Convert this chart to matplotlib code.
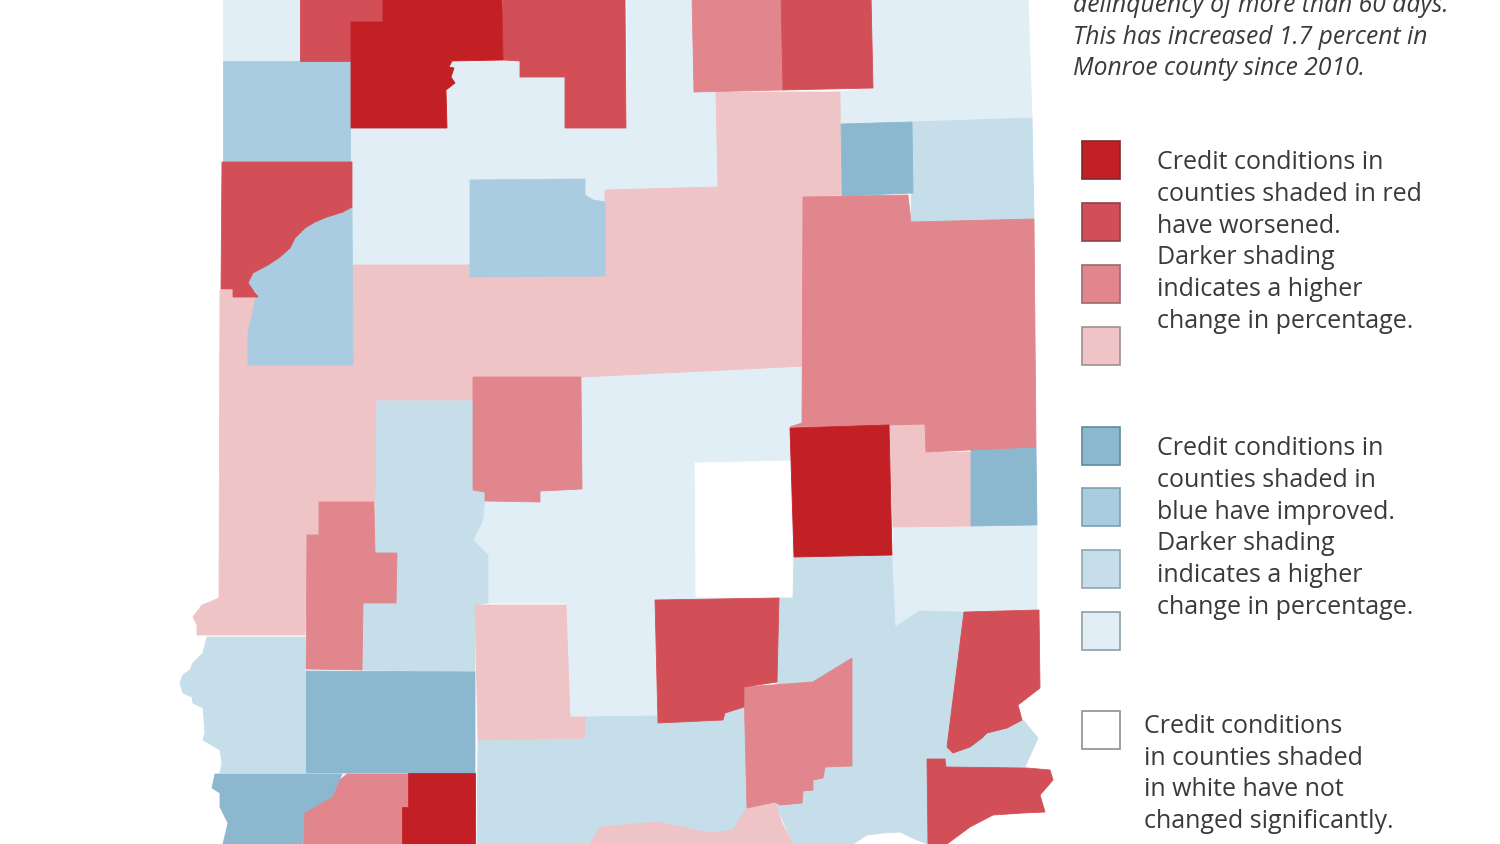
import matplotlib
matplotlib.use("Agg")
from matplotlib import pyplot as plt
from matplotlib.patches import Rectangle

plt.rcParams['font.family'] = ['Open Sans', 'DejaVu Sans']

# shades, darkest to lightest
c_Red = ['#c32026', '#d34f57', '#e0868c', '#efc4c7']
c_Blue = ['#8cb8cf', '#a9cce0', '#c5deea', '#e1eef6']
c_White = '#ffffff'
# legend box edges are a dirty version of the fill
c_RedEdge = ['#7f2a2d', '#8c4449', '#9c6a6e', '#a08f90']
c_BlueEdge = ['#5f8ba0', '#7f9fb0', '#8fa6b0', '#8d9fa8']

# county outlines, in image pixels
pale_blue = [
    [(223, -5), (300, -5), (300, 61), (223, 61)],
    [(350, 128), (447, 128), (447, 95), (452, 62), (520, 61), (520, 77), (565, 77), (565, 128), (627, 128),
     (627, -5), (692, -5), (694, 92), (716, 92), (718, 187), (605, 190), (605, 278), (352, 265)],
    [(868, -5), (1028, -5), (1032, 118), (912, 122), (841, 124), (840, 92), (873, 88)],
    [(582, 377), (720, 368), (805, 366), (802, 423), (790, 427), (793, 598), (778, 598), (655, 600), (657, 717),
     (570, 717), (566, 640), (566, 603), (488, 603), (488, 555), (473, 540), (484, 520), (484, 502), (540, 502),
     (540, 490), (582, 490)],
    [(893, 527), (1037, 526), (1037, 610), (920, 611), (895, 627)],
]
light_blue = [
    [(912, 122), (1032, 118), (1034, 219), (911, 222)],
    [(376, 400), (473, 400), (473, 490), (485, 492), (483, 520), (473, 540), (488, 555), (488, 603), (475, 605),
     (475, 672), (362, 670), (363, 603), (396, 603), (397, 553), (375, 553)],
    [(305, 637), (305, 773), (220, 773), (222, 763), (220, 750), (203, 740), (205, 733), (203, 708), (193, 703),
     (192, 697), (183, 693), (180, 683), (183, 675), (190, 670), (193, 663), (203, 653), (207, 637)],
    [(478, 740), (585, 738), (585, 717), (657, 716), (658, 723), (723, 720), (725, 713), (744, 707), (747, 808),
     (733, 830), (710, 833), (658, 822), (600, 827), (590, 844), (477, 844)],
    [(793, 598), (794, 557), (892, 555), (895, 627), (920, 611), (964, 612), (947, 747), (953, 753), (970, 747),
     (987, 733), (1023, 720), (1038, 738), (1025, 767), (946, 767), (945, 759), (927, 759), (928, 844), (917, 840),
     (900, 832), (883, 833), (867, 835), (853, 844), (793, 844), (775, 802), (777, 682), (779, 598)],
]
mid_blue = [
    [(223, 61), (350, 61), (350, 162), (223, 162)],
    [(352, 207), (353, 365), (248, 365), (248, 333), (257, 293), (248, 283), (253, 273), (268, 265), (280, 257),
     (290, 248), (295, 238), (305, 228), (315, 222), (327, 217), (343, 212)],
    [(470, 180), (585, 179), (585, 195), (593, 200), (605, 202), (605, 276), (470, 277)],
]
dark_blue = [
    [(841, 124), (912, 122), (913, 193), (842, 196)],
    [(971, 447), (1036, 447), (1037, 525), (971, 526)],
    [(306, 671), (475, 672), (475, 773), (306, 773)],
    [(215, 774), (342, 774), (333, 797), (305, 813), (302, 844), (223, 844), (228, 823), (220, 807), (220, 793),
     (212, 788)],
]
pale_red = [
    [(353, 265), (605, 265), (605, 190), (718, 187), (716, 92), (840, 92), (841, 195), (803, 197), (806, 366),
     (582, 377), (473, 377), (473, 400), (376, 400), (375, 502), (319, 502), (319, 535), (307, 535), (305, 635),
     (197, 635), (197, 625), (193, 617), (202, 605), (210, 602), (219, 598), (220, 290), (233, 290), (233, 297),
     (258, 297), (248, 333), (248, 365), (353, 365)],
    [(889, 425), (925, 424), (926, 452), (971, 452), (971, 526), (893, 527)],
    [(475, 605), (566, 605), (570, 717), (585, 717), (585, 738), (478, 740)],
    [(590, 844), (600, 827), (658, 822), (710, 833), (733, 830), (747, 808), (775, 802), (782, 823), (793, 844)],
]
mid_red = [
    [(692, -5), (781, -5), (783, 90), (694, 92)],
    [(803, 197), (908, 195), (911, 222), (1034, 219), (1036, 447), (926, 452), (925, 424), (889, 425), (790, 427),
     (802, 423)],
    [(473, 377), (581, 377), (582, 489), (540, 491), (540, 502), (485, 501), (485, 492), (473, 490)],
    [(319, 502), (374, 502), (375, 553), (397, 553), (396, 603), (363, 603), (362, 670), (306, 669), (307, 535),
     (319, 535)],
    [(744, 687), (813, 682), (852, 658), (852, 766), (825, 767), (823, 778), (813, 780), (813, 790), (803, 791),
     (802, 803), (780, 805), (775, 802), (747, 808)],
    [(347, 774), (408, 774), (408, 807), (402, 807), (402, 844), (303, 844), (305, 813), (333, 797), (340, 780)],
]
strong_red = [
    [(300, -5), (383, -5), (383, 22), (351, 22), (351, 61), (300, 61)],
    [(503, -5), (625, -5), (626, 128), (565, 128), (565, 77), (520, 77), (520, 61), (503, 60)],
    [(781, -5), (871, -5), (873, 88), (783, 90)],
    [(222, 162), (352, 162), (352, 207), (343, 212), (327, 217), (315, 222), (305, 228), (295, 238), (290, 248),
     (280, 257), (268, 265), (253, 273), (248, 283), (258, 297), (233, 297), (233, 289), (221, 289)],
    [(655, 600), (779, 598), (777, 682), (744, 687), (744, 707), (725, 713), (723, 720), (658, 723)],
    [(964, 612), (1039, 610), (1040, 688), (1018, 705), (1022, 720), (1007, 728), (987, 733), (982, 738), (970, 747),
     (953, 753), (947, 747)],
    [(927, 759), (945, 759), (946, 767), (1027, 768), (1050, 770), (1053, 780), (1040, 795), (1045, 812), (1023, 813),
     (993, 815), (970, 827), (947, 844), (928, 844)],
]
dark_red = [
    [(383, -5), (502, -5), (503, 60), (452, 61), (449, 67), (454, 68), (451, 77), (455, 83), (446, 90), (447, 128),
     (351, 128), (351, 22), (383, 22)],
    [(790, 428), (889, 425), (892, 555), (794, 557)],
    [(408, 773), (475, 773), (475, 844), (402, 844), (402, 807), (408, 807)],
]
white_counties = [
    [(695, 463), (790, 461), (793, 598), (696, 597)],
]

intro_lines = [
    'delinquency of more than 60 days.',
    'This has increased 1.7 percent in',
    'Monroe county since 2010.',
]
red_lines = [
    'Credit conditions in',
    'counties shaded in red',
    'have worsened.',
    'Darker shading',
    'indicates a higher',
    'change in percentage.',
]
blue_lines = [
    'Credit conditions in',
    'counties shaded in',
    'blue have improved.',
    'Darker shading',
    'indicates a higher',
    'change in percentage.',
]
white_lines = [
    'Credit conditions',
    'in counties shaded',
    'in white have not',
    'changed significantly.',
]

fig = plt.figure(figsize=(15, 8.44), dpi=100)
ax = fig.add_axes([0, 0, 1, 1])
ax.set_xlim(0, 1500)
ax.set_ylim(844, 0)
ax.axis('off')

# order matters, later shades sit on top of the earlier ones
t_Layers = [
    (pale_blue, c_Blue[3]), (white_counties, c_White), (light_blue, c_Blue[2]), (pale_red, c_Red[3]),
    (mid_blue, c_Blue[1]), (dark_blue, c_Blue[0]), (mid_red, c_Red[2]), (strong_red, c_Red[1]), (dark_red, c_Red[0]),
]
for t_Outlines, t_Color in t_Layers:
    for t_Outline in t_Outlines:
        ax.fill([p[0] for p in t_Outline], [p[1] for p in t_Outline], color=t_Color, lw=0.6)

# legend boxes
for t_Top, t_Color, t_Edge in zip([141, 203, 265, 327], c_Red, c_RedEdge):
    ax.add_patch(Rectangle((1082, t_Top), 38, 38, fc=t_Color, ec=t_Edge, lw=1.2))
for t_Top, t_Color, t_Edge in zip([427, 488, 550, 612], c_Blue, c_BlueEdge):
    ax.add_patch(Rectangle((1082, t_Top), 38, 38, fc=t_Color, ec=t_Edge, lw=1.2))
ax.add_patch(Rectangle((1082, 711), 38, 38, fc=c_White, ec='#8f8f8f', lw=1.2))

t_TextColor = '#3a3a3c'
for t_Line, t_Y in zip(intro_lines, [12, 44, 75]):
    ax.text(1073, t_Y, t_Line, fontsize=17.7, style='italic', color=t_TextColor, va='baseline', clip_on=False)
for t_Line, t_Y in zip(red_lines, [169, 201, 233, 264, 296, 328]):
    ax.text(1157, t_Y, t_Line, fontsize=18, color=t_TextColor, va='baseline')
for t_Line, t_Y in zip(blue_lines, [455, 487, 519, 550, 582, 614]):
    ax.text(1157, t_Y, t_Line, fontsize=18, color=t_TextColor, va='baseline')
for t_Line, t_Y in zip(white_lines, [733, 765, 796, 828]):
    ax.text(1144, t_Y, t_Line, fontsize=18, color=t_TextColor, va='baseline')

fig.savefig('out.png', dpi=100)
